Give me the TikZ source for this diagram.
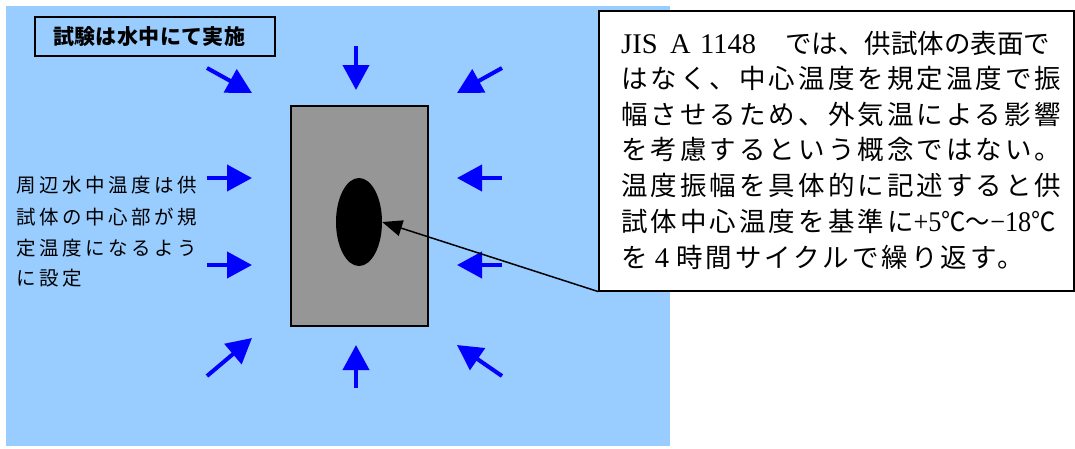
\documentclass[tikz,border=0pt]{standalone}
\usepackage{fontspec}
\usepackage{graphicx}
\setmainfont{Noto Sans CJK JP}
\newfontfamily\cjkbold{Noto Sans CJK JP}[LetterSpace=2]
\newfontfamily\cjkleft{Noto Sans CJK JP}[LetterSpace=18]
\newfontfamily\cjkcall{Noto Sans CJK JP}[LetterSpace=11.5]
\newfontfamily\latinserifraw{Liberation Serif}
\newcommand{\latinserif}{\latinserifraw\fontsize{28.5pt}{30pt}\selectfont}
\usetikzlibrary{arrows.meta,shapes.geometric}
\definecolor{water}{HTML}{99CCFF}
\definecolor{specimen}{HTML}{969696}
\definecolor{arrowblue}{HTML}{0000FF}
\tikzset{
  flow/.style={draw=arrowblue,line width=4pt,-{Triangle[length=25pt,width=26pt]}},
  calltext/.style={anchor=base west,inner sep=0pt,font=\cjkcall\fontsize{26.5pt}{30pt}\selectfont},
  lefttext/.style={anchor=base west,inner sep=0pt,font=\cjkleft\fontsize{19.5pt}{24pt}\selectfont},
}
\begin{document}
\begin{tikzpicture}[x=1pt,y=-1pt]
\useasboundingbox (0,0) rectangle (1075,448);
\fill[white] (0,0) rectangle (1075,448);
\fill[water] (6,6) rectangle (670,446);
% label box
\node[draw=black,line width=2pt,fill=water,anchor=west,minimum height=39pt,inner xsep=18pt,text width=204pt,align=left,
  font=\cjkbold\bfseries\fontsize{21pt}{24pt}\selectfont] (label) at (34,36.5) {試験は水中にて実施};
% specimen
\node[draw=black,line width=1.5pt,fill=specimen,minimum width=137pt,minimum height=220pt,inner sep=0pt] (spec) at (359.5,216) {};
\node[ellipse,fill=black,minimum width=46pt,minimum height=88pt,inner sep=0pt] (core) at (359,222) {};
% arrows
\coordinate (a1s) at (207,68);  \coordinate (a1e) at (252,93);
\coordinate (a2s) at (356,46);  \coordinate (a2e) at (356,90);
\coordinate (a3s) at (502,68);  \coordinate (a3e) at (457,93);
\coordinate (a4s) at (207,178); \coordinate (a4e) at (252,178);
\coordinate (a5s) at (207,265); \coordinate (a5e) at (252,265);
\coordinate (a6s) at (502,178); \coordinate (a6e) at (457,178);
\coordinate (a7s) at (502,265); \coordinate (a7e) at (457,265);
\coordinate (a8s) at (207,376); \coordinate (a8e) at (252,338);
\coordinate (a9s) at (356,388); \coordinate (a9e) at (356,345);
\coordinate (a10s) at (502,376); \coordinate (a10e) at (457,345);
\foreach \i in {1,...,10} \draw[flow] (a\i s) -- (a\i e);
% left text
\node[lefttext] (l1) at (16,192) {周辺水中温度は供};
\node[lefttext] (l2) at (16,224) {試体の中心部が規};
\node[lefttext] (l3) at (16,255) {定温度になるよう};
\node[lefttext] (l4) at (16,285) {に設定};
% callout
\node[draw=black,line width=1.5pt,fill=white,minimum width=475pt,minimum height=280pt,inner sep=0pt,anchor=north west] (callout) at (598,10) {};
\draw[black,line width=1.5pt,-{Triangle[length=20pt,width=16pt]}] (callout.south west) -- (core.east);
\node[calltext] (c1) at (621,53) {\makebox[164pt][l]{\latinserif JIS\hspace{12.5pt}A\hspace{9.5pt}1148}{\normalfont では、供試体の表面で}};
\node[calltext] (c2) at (621,88.5) {はなく、中心温度を規定温度で振};
\node[calltext] (c3) at (621,124) {幅させるため、外気温による影響};
\node[calltext] (c4) at (621,159) {を考慮するという概念ではない。};
\node[calltext] (c5) at (621,195) {温度振幅を具体的に記述すると供};
\node[calltext] (c6) at (621,231) {試体中心温度を基準に\resizebox{142pt}{\height}{{\latinserif +5}{\normalfont ℃〜}{\latinserif −18}{\normalfont ℃}}};
\node[calltext] (c7) at (621,267) {を{\latinserif\ 4\ }時間サイクルで繰り返す。};
\end{tikzpicture}
\end{document}
